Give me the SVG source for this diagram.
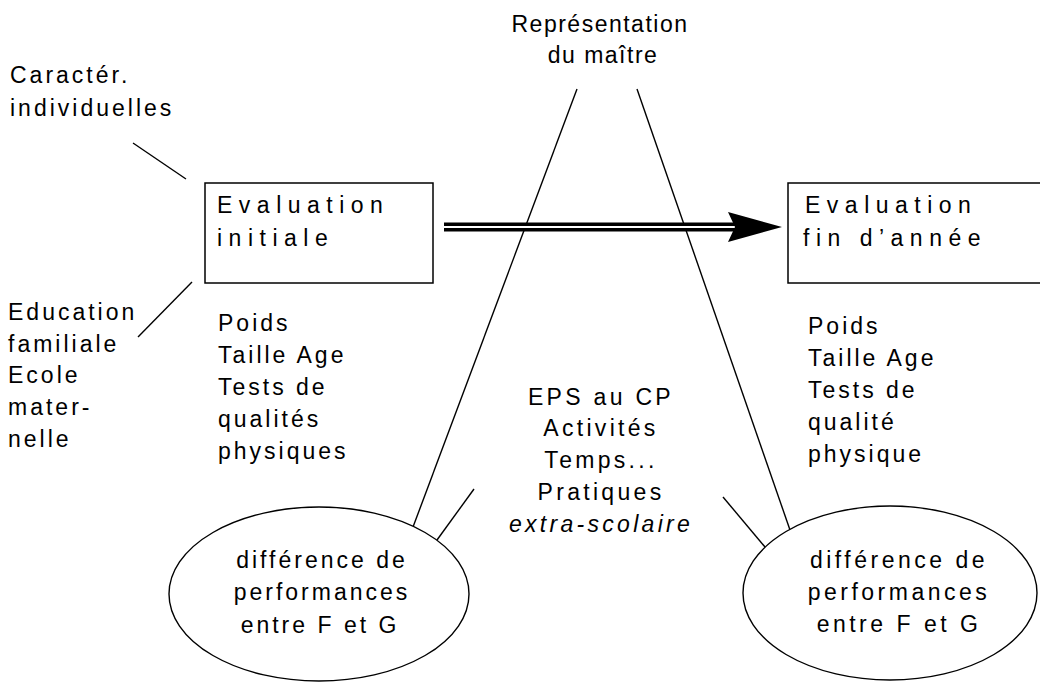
<svg xmlns="http://www.w3.org/2000/svg" width="1040" height="682" viewBox="0 0 1040 682">
<style>
  text { font-family: "Liberation Sans", Arial, sans-serif; font-size: 23px; fill: #000; letter-spacing: 3px; }
  .eval { letter-spacing: 6.5px; }
  .top { letter-spacing: 1.5px; text-anchor: middle; }
  .mid { text-anchor: middle; letter-spacing: 3.3px; }
  .ell { text-anchor: middle; letter-spacing: 3.5px; }
  .ell2 { text-anchor: middle; letter-spacing: 3px; }
  .it { font-style: italic; }
  .box { fill: #fff; stroke: #000; stroke-width: 1.5; }
  .ln { stroke: #000; stroke-width: 1.4; fill: none; }
  .oval { fill: #fff; stroke: #000; stroke-width: 1.4; }
</style>

<g id="connectors">
  <line class="ln" x1="133" y1="143" x2="186" y2="179"/>
  <line class="ln" x1="138" y1="337" x2="192" y2="282"/>
  <line class="ln" x1="577" y1="89" x2="413" y2="527"/>
  <line class="ln" x1="637" y1="89" x2="790" y2="530"/>
  <line class="ln" x1="474" y1="489" x2="437" y2="540"/>
  <line class="ln" x1="723" y1="497" x2="765" y2="547"/>
  <g id="main-arrow">
    <line x1="444" y1="227" x2="736" y2="227" stroke="#000" stroke-width="9"/>
    <line x1="444" y1="227" x2="736" y2="227" stroke="#fff" stroke-width="2"/>
    <path d="M728,212 L782,227 L728,242 L735,227 Z" fill="#000"/>
  </g>
</g>

<g id="caracter">
  <text x="10" y="83">Caractér.</text>
  <text x="10" y="116">individuelles</text>
</g>

<g id="representation">
  <text class="top" x="600" y="32">Représentation</text>
  <text class="top" x="603" y="63">du maître</text>
</g>

<g id="eval-initiale">
  <rect class="box" x="205" y="183" width="228" height="100"/>
  <text class="eval" x="217" y="213">Evaluation</text>
  <text class="eval" x="217" y="246">initiale</text>
</g>

<g id="eval-fin">
  <rect class="box" x="788" y="183" width="260" height="100"/>
  <text class="eval" x="805" y="213">Evaluation</text>
  <text class="eval" x="803" y="246">fin d’année</text>
</g>

<g id="education">
  <text x="8" y="320">Education</text>
  <text x="8" y="352">familiale</text>
  <text x="8" y="383">Ecole</text>
  <text x="8" y="415">mater-</text>
  <text x="8" y="447">nelle</text>
</g>

<g id="mesures-initiales">
  <text x="218" y="331">Poids</text>
  <text x="218" y="363">Taille Age</text>
  <text x="218" y="395">Tests de</text>
  <text x="218" y="427">qualités</text>
  <text x="218" y="459">physiques</text>
</g>

<g id="mesures-finales">
  <text x="808" y="334">Poids</text>
  <text x="808" y="366">Taille Age</text>
  <text x="808" y="398">Tests de</text>
  <text x="808" y="430">qualité</text>
  <text x="808" y="462">physique</text>
</g>

<g id="eps">
  <text class="mid" x="601" y="405">EPS au CP</text>
  <text class="mid" x="601" y="436">Activités</text>
  <text class="mid" x="601" y="468">Temps...</text>
  <text class="mid" x="601" y="500">Pratiques</text>
  <text class="mid it" x="601" y="532">extra-scolaire</text>
</g>

<g id="diff-initiale">
  <ellipse class="oval" cx="319" cy="594" rx="150" ry="87"/>
  <text class="ell2" x="322" y="568">différence de</text>
  <text class="ell2" x="322" y="600">performances</text>
  <text class="ell2" x="320" y="633">entre F et G</text>
</g>

<g id="diff-finale">
  <ellipse class="oval" cx="890" cy="593" rx="147" ry="87"/>
  <text class="ell" x="899" y="568">différence de</text>
  <text class="ell" x="899" y="600">performances</text>
  <text class="ell" x="899" y="632">entre F et G</text>
</g>
</svg>
